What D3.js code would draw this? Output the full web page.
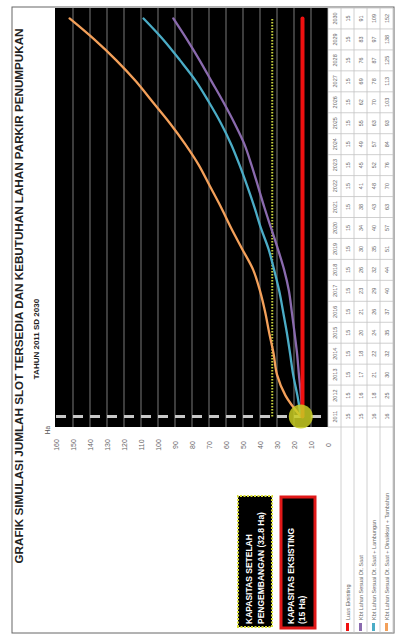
<!DOCTYPE html>
<html>
<head>
<meta charset="utf-8">
<script src="https://cdn.jsdelivr.net/npm/d3@7/dist/d3.min.js"></script>
<style>
  html, body { margin: 0; padding: 0; background: #fff; }
  svg { display: block; font-family: "Liberation Sans", Arial, sans-serif; }
</style>
</head>
<body>
<svg id="chart" width="396" height="636"></svg>
<script>
// Years on the category axis
const years = [2011, 2012, 2013, 2014, 2015, 2016, 2017, 2018, 2019, 2020,
               2021, 2022, 2023, 2024, 2025, 2026, 2027, 2028, 2029, 2030];

// Land area (Ha) per scenario
const luasEksisting = [15, 15, 15, 15, 15, 15, 15, 15, 15, 15,
                       15, 15, 15, 15, 15, 15, 15, 15, 15, 15];
const kbtSaatIni = [15, 15.9, 17.1, 18.2, 19.7, 21.3, 23, 25.8, 29.5, 33.5,
                    37.5, 41.2, 45, 49.2, 55, 61.5, 68.5, 75.5, 83, 91];
const kbtLambungan = [16, 18, 20.5, 22.3, 24.2, 26.4, 28.7, 31.7, 35, 39.5,
                      43.3, 47.5, 52, 57, 63, 70, 77.6, 87, 97, 108.5];
const kbtTambahan = [16, 25, 30, 32, 34.6, 37, 40, 44, 50.5, 57,
                     63, 69.5, 76, 84, 93, 103, 113, 124.5, 137.5, 152];

// Capacity references (Ha)
const kapasitasEksisting = 15;
const kapasitasPengembangan = 32.8;

// Value axis ticks
const valueTicks = [0, 10, 20, 30, 40, 50, 60, 70, 80, 90, 100, 110, 120, 130, 140, 150, 160];

const seriesNames = [
  "Luas Eksisting",
  "Kbt Lahan Sesuai Dt. Saat",
  "Kbt Lahan Sesuai Dt. Saat + Lambungan",
  "Kbt Lahan Sesuai Dt. Saat + Dinaikkan + Tambahan"
];
const seriesColors = ["#f01010", "#8a6aae", "#4bacc6", "#f3a05a"];
const seriesValues = [luasEksisting, kbtSaatIni, kbtLambungan, kbtTambahan];

const svg = d3.select("#chart");

// The chart is laid out in a 636 x 396 landscape frame and turned a quarter turn
const g = svg.append("g").attr("transform", "translate(0,636) rotate(-90)");

const plot = { left: 209, right: 628, top: 56, bottom: 328 };

const x = d3.scaleBand().domain(years).range([plot.left, plot.right]).padding(0);
const y = d3.scaleLinear().domain([0, 160]).range([plot.bottom, plot.top]);
const cx = d => x(d) + x.bandwidth() / 2;

// Outer frame
g.append("rect")
  .attr("x", 3).attr("y", 12).attr("width", 626).attr("height", 382)
  .attr("fill", "none").attr("stroke", "#666").attr("stroke-width", 1);

// Title
g.append("text")
  .attr("x", 340).attr("y", 22.5)
  .attr("text-anchor", "middle")
  .attr("font-size", 10.5).attr("font-weight", "bold").attr("fill", "#222")
  .attr("textLength", 535).attr("lengthAdjust", "spacingAndGlyphs")
  .text("GRAFIK SIMULASI JUMLAH SLOT TERSEDIA DAN KEBUTUHAN LAHAN PARKIR PENUMPUKAN");
g.append("text")
  .attr("x", 297).attr("y", 38.5)
  .attr("text-anchor", "middle")
  .attr("font-size", 8).attr("font-weight", "bold").attr("fill", "#222")
  .text("TAHUN 2011 SD 2030");

// Plot background
g.append("rect")
  .attr("x", plot.left).attr("y", plot.top - 1)
  .attr("width", plot.right - plot.left).attr("height", plot.bottom - plot.top + 1)
  .attr("fill", "#000");

// Gridlines at every value tick
g.append("g").selectAll("line")
  .data(valueTicks.slice(1, -1))
  .join("line")
  .attr("x1", plot.left).attr("x2", plot.right)
  .attr("y1", d => y(d)).attr("y2", d => y(d))
  .attr("stroke", "#666").attr("stroke-width", 1.2);

// Value axis labels
const axis = g.append("g")
  .attr("transform", `translate(${plot.left},0)`)
  .call(d3.axisLeft(y).tickValues(valueTicks).tickSize(0).tickPadding(0));
axis.select(".domain").remove();
axis.selectAll(".tick text")
  .attr("x", -18).attr("text-anchor", "middle")
  .attr("font-size", 7).attr("fill", "#666")
  .attr("font-family", "'Liberation Sans', Arial, sans-serif");

g.append("text")
  .attr("x", 206).attr("y", 50).attr("text-anchor", "middle")
  .attr("font-size", 6.5).attr("fill", "#555").text("Ha");

// Start-year marker
g.append("line")
  .attr("x1", cx(years[0])).attr("x2", cx(years[0]))
  .attr("y1", plot.top).attr("y2", plot.bottom)
  .attr("stroke", "#c8c8c8").attr("stroke-width", 3)
  .attr("stroke-dasharray", "10,7");

// Capacity after development
g.append("path")
  .datum(years)
  .attr("d", d3.line().x(d => cx(d)).y(() => y(kapasitasPengembangan)))
  .attr("fill", "none").attr("stroke", "#c6cf3c").attr("stroke-width", 2)
  .attr("stroke-dasharray", "1.5,1.5");

const line = d3.line().curve(d3.curveCatmullRom);

// Demand scenarios
seriesValues.forEach((vals, i) => {
  if (i === 0) return;
  g.append("path")
    .attr("d", line(years.map((yr, k) => [cx(yr), y(vals[k])])))
    .attr("fill", "none").attr("stroke", seriesColors[i]).attr("stroke-width", 2.3)
    .attr("stroke-linecap", "round");
});

// Existing capacity
g.append("path")
  .attr("d", d3.line()(years.map((yr, k) => [cx(yr), y(luasEksisting[k])])))
  .attr("fill", "none").attr("stroke", seriesColors[0]).attr("stroke-width", 4)
  .attr("stroke-linecap", "round");

// Highlight at the starting point
g.append("circle")
  .attr("cx", cx(years[0])).attr("cy", y(16))
  .attr("r", 12).attr("fill", "#c8cc22").attr("opacity", 0.85);

// Data table
const rowTop = plot.bottom, rowH = 13;
const tbl = g.append("g");
const gridColor = "#c4c4c4";
// horizontal rule lines
for (let r = 0; r <= 5; r++) {
  tbl.append("line")
    .attr("x1", r === 0 ? plot.left : 3).attr("x2", plot.right)
    .attr("y1", rowTop + r * rowH).attr("y2", rowTop + r * rowH)
    .attr("stroke", gridColor).attr("stroke-width", 0.8);
}
// vertical rule lines
years.forEach(yr => {
  tbl.append("line")
    .attr("x1", x(yr)).attr("x2", x(yr))
    .attr("y1", rowTop).attr("y2", rowTop + 5 * rowH)
    .attr("stroke", gridColor).attr("stroke-width", 0.8);
});
tbl.append("line")
  .attr("x1", plot.right).attr("x2", plot.right)
  .attr("y1", rowTop).attr("y2", rowTop + 5 * rowH)
  .attr("stroke", gridColor).attr("stroke-width", 0.8);

// year header row
tbl.selectAll("text.yr").data(years).join("text")
  .attr("class", "yr")
  .attr("x", d => cx(d)).attr("y", rowTop + rowH / 2 + 2)
  .attr("text-anchor", "middle").attr("font-size", 5.5).attr("fill", "#666")
  .text(d => d);

// value rows
seriesValues.forEach((vals, i) => {
  tbl.selectAll(`text.v${i}`).data(vals).join("text")
    .attr("class", `v${i}`)
    .attr("x", (d, k) => cx(years[k]))
    .attr("y", rowTop + (i + 1) * rowH + rowH / 2 + 2)
    .attr("text-anchor", "middle").attr("font-size", 5.5).attr("fill", "#666")
    .text(d => Math.round(d));
  // legend key and name
  const ry = rowTop + (i + 1) * rowH + rowH / 2;
  tbl.append("line")
    .attr("x1", 5).attr("x2", 13).attr("y1", ry).attr("y2", ry)
    .attr("stroke", seriesColors[i]).attr("stroke-width", 3);
  tbl.append("text")
    .attr("x", 16).attr("y", ry + 2)
    .attr("font-size", 5.5).attr("fill", "#666")
    .text(seriesNames[i]);
});

// Capacity callouts
const notes = [
  { x0: 9, y0: 238, w: 131, h: 34, stroke: "#d8dc3a", dash: "2,1.5", sw: 2,
    lines: ["KAPASITAS SETELAH", `PENGEMBANGAN (${kapasitasPengembangan} Ha)`], base: [252, 264] },
  { x0: 8, y0: 281, w: 131, h: 34, stroke: "#e01818", dash: null, sw: 3,
    lines: ["KAPASITAS EKSISTING", `(${kapasitasEksisting} Ha)`], base: [294, 305] }
];
notes.forEach(n => {
  g.append("rect")
    .attr("x", n.x0).attr("y", n.y0).attr("width", n.w).attr("height", n.h)
    .attr("fill", "#000").attr("stroke", n.stroke).attr("stroke-width", n.sw)
    .attr("stroke-dasharray", n.dash);
  n.lines.forEach((t, k) => {
    g.append("text")
      .attr("x", 12).attr("y", n.base[k])
      .attr("font-size", 8.5).attr("font-weight", "bold").attr("fill", "#fff")
      .text(t);
  });
});
</script>
</body>
</html>
